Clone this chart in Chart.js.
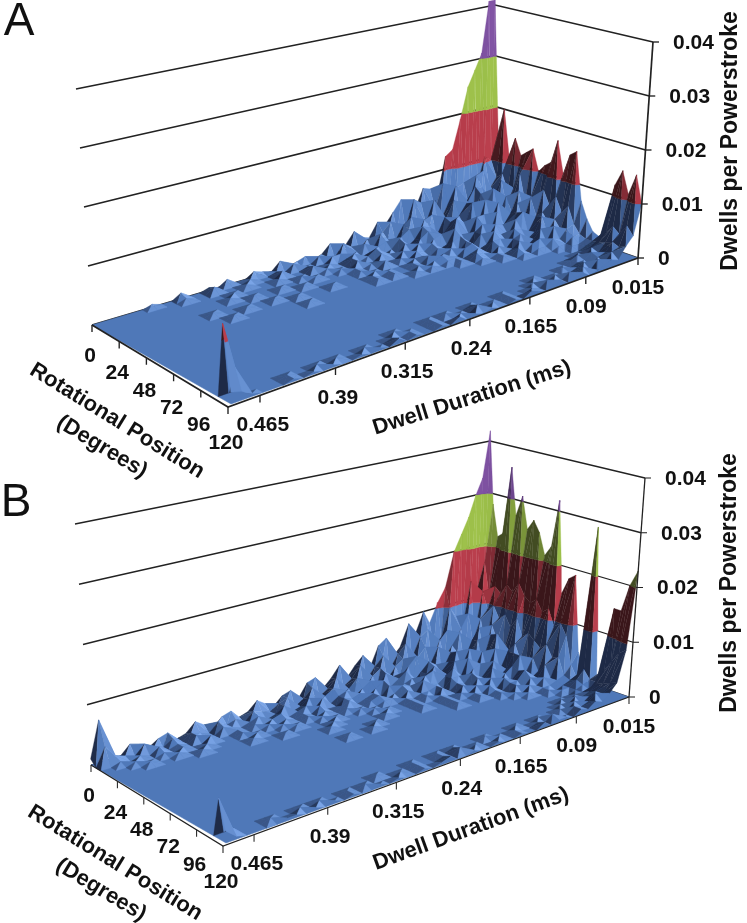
<!DOCTYPE html>
<html><head><meta charset="utf-8">
<script src="https://cdn.jsdelivr.net/npm/chart.js@4"></script>
<style>html,body{margin:0;padding:0;background:#fff}canvas{display:block;position:absolute;left:0}#a{top:0}#b{top:430px}</style>
</head><body>
<canvas id="a" width="747" height="500"></canvas>
<canvas id="b" width="747" height="493"></canvas>
<script>
// grid samples
const rotations=[0,5,10,15,20,25,30,35,40,45,50,55,60,65,70,75,80,85,90,95,100,105,110,115,120];
const durations=[.015,.025,.035,.045,.055,.065,.075,.085,.095,.105,.115,.125,.135,.145,.155,.165,.175,.185,.195,.205,.215,.225,.235,.245,.255,.265,.275,.285,.295,.305,.315,.325,.335,.345,.355,.365,.375,.385,.395,.405,.415,.425,.435,.445,.455,.465,.475,.485,.495];
const rotationTicks=[0,24,48,72,96,120];
const durationTicks=[.015,.09,.165,.24,.315,.39,.465];
const valueTicks=[0,.01,.02,.03,.04];
const valueUnit=.0005; // stored values are in units of 0.0005 dwells per powerstroke; omitted trailing cells are 0
const surfaceA=[
[82,82,62,56,50,38,27,25,10,14,15,8,6,13,9,5,7,2,3,6,2,1,4,1,0,2,1,0,3,0,1,2,0,0,2,0,1,0,0,2,0,0,1],
[30,20,22,12,9,14,13,4,16,7,5,11,13,3,2,7,4,1,3,0,2,4,0,1,2,0,0,2,0,1,0,0,1,0,0,0,2,0,0,1],
[40,14,10,18,17,6,5,15,9,3,12,4,2,8,6,1,2,5,0,3,1,0,2,2,0,0,1,0,0,2,0,0,0,1],
[22,16,8,4,13,14,9,3,11,5,2,8,7,1,5,3,0,3,2,0,0,2,1,0,1,0,2,0,0,0,1,0,0,0,0,1],
[30,10,15,7,3,12,4,10,6,3,7,1,5,6,2,0,4,1,0,3,1,0,2,0,0,1,0,0,1,0,0,0,0,0,0,0,1],
[24,12,6,5,14,9,2,11,3,7,6,2,0,5,3,1,3,0,1,2,0,0,2,0,1,0,0,1,0,0,0,1,0,0,1],
[26,18,9,11,4,7,12,3,1,6,8,2,4,3,0,3,1,2,0,0,1,1,0,1,0,0,0,0,0,1,0,0,0,0,0,0,0,0,0,1],
[28,8,13,6,2,11,5,8,8,2,3,6,1,0,3,1,2,0,1,0,2,0,0,1,0,0,0,0,0,0,0,0,0,1,0,0,1],
[20,11,5,10,7,3,9,1,6,4,0,4,3,1,2,0,1,1,0,0,0,0,1,0,0,0,0,1,0,0,0,1,0,0,0,0,0,0,1],
[23,7,12,4,8,1,5,6,2,4,1,3,0,2,1,0,2,0,1,0,0,1,0,1],
[25,15,6,3,9,7,2,3,5,1,0,3,2,0,1,2,1,0,1,0,0,1,0,1,0,0,0,0,0,0,0,1],
[34,10,8,7,2,4,5,1,3,3,0,2,1,0,1,1,0,1,0,1],
[22,14,5,8,3,1,4,3,0,2,0,1,2,0,1],
[30,9,7,3,5,2,0,3,1,0,1,0,1],
[32,12,4,6,1,3,2,0,2,0,1],
[14,6,5,2,3,1,1,0,1],
[8,3,3,1,1],
[4,2,1,1],
[3,2,1],
[6,3,2,1,1],
[24,7,4,3,1,2,1],
[30,10,5,2,3,1,1,0,1,0,0,0,1],
[22,8,6,3,2,0,2,1,0,0,1,0,0,1,0,0,0,1,0,0,0,1,0,0,1,0,1,0,0,0,1],
[30,12,5,4,1,3,0,2,1,2,0,1,2,0,1,0,0,1,0,1,0,2,0,1,0,0,1,0,0,1,0,1,0,0,1,0,0,1,0,1,0,0,1,0,0,0,0,10,26],
[20,9,6,2,3,2,1,0,2,1,0,2,1,0,1,2,0,1,0,0,1,0,1,0,2,0,1,0,0,1,0,2,0,1,0,1,0,0,1,0,1,0,1,0,0,0,1,3,4]
];
const surfaceB=[
[84,66,60,52,46,40,27,22,15,20,12,17,9,6,14,12,4,10,7,3,9,5,2,7,6,1,5,4,1,3,5,2,1,4,3,0,2,4,1,0,3,2,0,2,3,0,1,14,2],
[56,34,24,28,10,16,20,9,7,14,12,5,11,8,3,9,6,2,8,4,2,6,3,1,5,2,0,4,3,1,2,3,0,2,1,3,0,1,2,0,2,0,1,3,0,1,2,6],
[44,22,24,8,17,12,4,13,10,3,9,6,2,7,5,1,6,4,0,5,2,1,4,2,0,3,1,0,3,1,0,2,1,0,1,2,0,0,2,0,1,0,2,0,1,0,1],
[46,26,18,15,7,3,12,8,4,9,3,1,8,5,2,3,5,1,4,2,0,3,2,0,3,0,2,1,0,2,1,0,1,0,1,0,0,2,0,0,1,0,1,0,0,1],
[72,24,20,6,13,9,2,6,7,1,4,6,3,0,5,3,1,4,2,0,2,1,2,0,0,2,0,1,0,1,0,1,0,0,1,0,0,0,1,0,0,1,0,0,1],
[54,28,16,14,3,10,5,1,8,5,2,5,3,1,3,2,0,3,0,2,1,0,2,1,0,1,0,1,0,0,1,0,0,1,0,0,0,0,0,1],
[62,26,18,9,12,2,4,9,3,6,2,0,5,4,1,2,3,1,0,2,1,0,0,1,0,0,1,0,0,1,0,0,0,0,1],
[50,30,14,4,13,6,8,2,7,0,5,3,1,2,4,0,2,0,1,1,0,0,1,0,0,1,0,0,0,0,0,1],
[54,26,18,7,3,9,2,5,4,1,3,3,0,2,1,1,0,1,0,0,0,1,0,0,0,0,1],
[50,24,12,10,8,2,6,3,0,4,1,2,0,2,0,1,0,1,0,0,1,0,0,0,0,0,0,1],
[42,26,14,5,8,3,1,5,2,3,0,2,0,0,1,0,0,1,0,0,0,1],
[46,22,12,2,8,5,3,0,3,1,2,0,1,0,1,0,0,1,0,0,0,0,0,1],
[64,24,10,7,2,4,1,3,0,2,0,1,0,0,1,0,0,0,0,0,0,0,0,0,1,0,0,1],
[30,18,12,3,1,5,2,2,0,1,0,1,0,0,1],
[36,20,8,6,2,3,0,2,0,1],
[38,16,9,2,3,1,2,0,1],
[10,6,3,2,1,1,0,1],
[4,2,2,1,0,1],
[58,6,3,1,1],
[4,3,2,1],
[6,3,1,1,1,0,1],
[30,8,4,2,1,2,0,1],
[30,12,5,3,2,0,2,0,1,0,0,1,0,0,1,0,0,0,1,0,0,0,1,0,1,0,0,1,0,0,0,1],
[40,16,6,3,4,2,1,2,0,0,2,0,1,0,0,1,0,1,0,0,1,0,2,0,1,0,0,1,0,1,0,0,0,1,0,1,0,0,1,0,1,0,0,1,0,0,0,3,14],
[46,18,7,4,2,3,1,2,0,1,1,0,2,0,0,1,0,0,1,0,0,1,0,0,2,1,0,1,0,0,1,0,1,0,0,1,0,1,0,1,0,1,1,0,0,0,0,1,4]
];
const bandEdges=[0,.01,.02,.03,Infinity];
const bandColors=[
 {base:[79,120,184],light:[128,170,236],dark:[30,42,70]},
 {base:[178,58,72],light:[200,72,86],dark:[58,22,26]},
 {base:[152,187,71],light:[172,208,86],dark:[66,76,34]},
 {base:[123,79,158],light:[140,94,176],dark:[70,44,92]}
];
const panels=[
 {canvas:'a',top:0,height:500,letter:'A',letterAt:[19,22],surface:surfaceA,line:1.7,
  floor:[[491,207],[92,325],[231,404],[638,258]],
  roof:[[495,5],[76,89],[226,168],[653,42]],
  rotTitle:[117,421,31.7],degTitle:[102,447,31],durTitle:[472,398,-17.5],valTitle:[731,141]},
 {canvas:'b',top:430,height:493,letter:'B',letterAt:[16,503],surface:surfaceB,line:1.3,
  floor:[[482,646],[91,765],[226,843],[629,697]],
  roof:[[490,441],[75,524],[221,607],[645,478]],
  rotTitle:[115,863,31.7],degTitle:[101,890,31],durTitle:[471,829,-20],valTitle:[730,583]}
];
function homography(q){
 const [[x0,y0],[x1,y1],[x2,y2],[x3,y3]]=q;
 const dx1=x1-x2,dx2=x3-x2,sx=x0-x1+x2-x3,dy1=y1-y2,dy2=y3-y2,sy=y0-y1+y2-y3;
 const det=dx1*dy2-dx2*dy1,g=(sx*dy2-dx2*sy)/det,h=(dx1*sy-sx*dy1)/det;
 const a=x1-x0+g*x1,b=x3-x0+h*x3,d=y1-y0+g*y1,e=y3-y0+h*y3;
 return (s,t)=>{const w=g*s+h*t+1;return [(a*s+b*t+x0)/w,(d*s+e*t+y0)/w];};
}
const dMin=durations[0],dMax=durations[durations.length-1],rMax=120,zMax=.04;
function clipZ(poly,level,keepAbove){
 const out=[];
 for(let i=0;i<poly.length;i++){
  const p=poly[i],q=poly[(i+1)%poly.length];
  const pin=keepAbove?p[2]>=level:p[2]<=level,qin=keepAbove?q[2]>=level:q[2]<=level;
  if(pin)out.push(p);
  if(pin!==qin){const f=(level-p[2])/(q[2]-p[2]);out.push([p[0]+(q[0]-p[0])*f,p[1]+(q[1]-p[1])*f,level]);}
 }
 return out;
}
function mix(a,b,f){return a.map((v,i)=>Math.round(v+(b[i]-v)*f));}
function shadeOf(tri){
 const [A,B,C]=tri;
 const u=[(B[0]-A[0])*800,(B[1]-A[1])*1.2,(B[2]-A[2])*5900],v=[(C[0]-A[0])*800,(C[1]-A[1])*1.2,(C[2]-A[2])*5900];
 let nx=u[1]*v[2]-u[2]*v[1],ny=u[2]*v[0]-u[0]*v[2],nz=u[0]*v[1]-u[1]*v[0];
 if(nz<0){nx=-nx;ny=-ny;nz=-nz;}
 const m=Math.hypot(nx,ny,nz)||1,tilt=1-(nz*nz)/(m*m);
 const s=(ny*.8-nx*1.0)/m; // ny>0 faces high rotation (lit), nx>0 faces long durations (shadowed)
 return s>=0?Math.min(1,s*1.7*(1-.75*tilt)):Math.max(-1,s*1.25);
}
function buildDatasets(p){
 const fl=homography(p.floor),rf=homography(p.roof);
 const proj=(d,r,z)=>{
  const s=(d-dMin)/(dMax-dMin),t=r/rMax,f=fl(s,t),c=rf(s,t),k=z/zMax;
  return {x:f[0]+(c[0]-f[0])*k,y:f[1]+(c[1]-f[1])*k};
 };
 p.proj=proj;
 const list=[];
 const line=(pts,w,col)=>list.push({data:pts,borderColor:col||'#222',borderWidth:w||p.line,fill:false,backgroundColor:'transparent'});
 const off=(o,dx,dy)=>({x:o.x+dx,y:o.y+dy});
 // walls
 valueTicks.forEach(v=>{
  if(v===0)return;
  line([proj(dMax,0,v),proj(dMin,0,v),proj(dMin,rMax,v)]);
 });
 line([proj(dMax,0,0),proj(dMin,0,0),proj(dMin,rMax,0)]);
 // floor
 const base=bandColors[0].base,baseCss=`rgb(${base})`;
 const floorPts=[proj(dMin,0,0),proj(dMax,0,0),proj(dMax,rMax,0),proj(dMin,rMax,0),proj(dMin,0,0)];
 list.push({data:floorPts,borderColor:baseCss,borderWidth:.5,backgroundColor:baseCss,fill:'shape'});
 // facets, back to front
 const S=p.surface,val=(r,c)=>(S[r][c]||0)*valueUnit;
 for(let r=0;r<rotations.length-1;r++){
  for(let c=0;c<durations.length-1;c++){
   const pts=[[durations[c],rotations[r],val(r,c)],[durations[c+1],rotations[r],val(r,c+1)],[durations[c+1],rotations[r+1],val(r+1,c+1)],[durations[c],rotations[r+1],val(r+1,c)]];
   if(pts.every(q=>q[2]===0))continue;
   const diagA=Math.max(pts[0][2],pts[2][2])>=Math.max(pts[1][2],pts[3][2]);
   const tris=diagA?[[pts[0],pts[1],pts[2]],[pts[0],pts[2],pts[3]]]:[[pts[0],pts[1],pts[3]],[pts[1],pts[2],pts[3]]];
   for(const tri of tris){
    if(tri.every(q=>q[2]===0))continue;
    const s=shadeOf(tri);
    for(let b=0;b<4;b++){
     let poly=tri;
     if(b>0)poly=clipZ(poly,bandEdges[b],true);
     if(poly.length&&bandEdges[b+1]<Infinity)poly=clipZ(poly,bandEdges[b+1],false);
     if(poly.length<3)continue;
     const cols=bandColors[b];
     const rgb=s>=0?mix(cols.base,cols.light,s):mix(cols.base,cols.dark,-s);
     const css=`rgb(${rgb})`;
     const path=poly.map(q=>proj(q[0],q[1],q[2]));path.push(path[0]);
     list.push({data:path,borderColor:css,borderWidth:.35,backgroundColor:css,fill:'shape'});
    }
   }
  }
 }
 // axes in front
 const corner=off(proj(dMax,rMax,0),-3,3);
 line([off(proj(dMax,0,0),0,0),corner,off(proj(dMin,rMax,0),0,0)]);
 line([proj(dMin,rMax,0),proj(dMin,rMax,zMax)]);
 const rotEdge=r=>{const a=proj(dMax,0,0);return {x:a.x+(corner.x-a.x)*r/rMax,y:a.y+(corner.y-a.y)*r/rMax};};
 p.rotEdge=rotEdge;
 rotationTicks.forEach(r=>{const o=rotEdge(r);line([o,off(o,0,7)],p.line*.8);});
 const durEdge=d=>{const o=proj(d,rMax,0);const k=(d-dMin)/(dMax-dMin);return off(o,-3*k,3*k);};
 p.durEdge=durEdge;
 durationTicks.forEach(d=>{const o=durEdge(d);line([o,off(o,0,7)],p.line*.8);});
 valueTicks.forEach(v=>{const o=proj(dMin,rMax,v);line([o,off(o,6,0)],p.line*.8);});
 return list.reverse(); // Chart.js paints the first dataset last
}
const textPlugin={id:'panelText',afterDraw(chart,args,opts){
 const p=opts.panel,ctx=chart.ctx,sx=chart.scales.x,sy=chart.scales.y;
 const put=(txt,x,y,font,angle,align)=>{
  ctx.save();ctx.translate(sx.getPixelForValue(x),sy.getPixelForValue(y));
  if(angle)ctx.rotate(angle*Math.PI/180);
  ctx.font=font;ctx.fillStyle='#111';ctx.textAlign=align||'center';ctx.textBaseline='middle';
  ctx.fillText(txt,0,0);ctx.restore();
 };
 const tickFont='bold 21px "Liberation Sans",Arial,sans-serif',titleFont='bold 22px "Liberation Sans",Arial,sans-serif';
 rotationTicks.forEach(r=>{const o=p.rotEdge(r);put(String(r),o.x-2,o.y+31+5*r/120,tickFont);});
 durationTicks.forEach(d=>{const o=p.durEdge(d);put(String(d),o.x+3*(d-dMin)/(dMax-dMin),o.y+30,tickFont);});
 valueTicks.forEach(v=>{const o=p.proj(dMin,rMax,v);put(String(v),o.x+20,o.y+1,tickFont,0,'left');});
 put('Rotational Position',p.rotTitle[0],p.rotTitle[1],titleFont,p.rotTitle[2]);
 put('(Degrees)',p.degTitle[0],p.degTitle[1],titleFont,p.degTitle[2]);
 put('Dwell Duration (ms)',p.durTitle[0],p.durTitle[1],titleFont,p.durTitle[2]);
 put('Dwells per Powerstroke',p.valTitle[0],p.valTitle[1],'bold 23px "Liberation Sans",Arial,sans-serif',-90);
 put(p.letter,p.letterAt[0],p.letterAt[1],'46px "Liberation Sans",Arial,sans-serif');
}};
panels.forEach(p=>{
 new Chart(document.getElementById(p.canvas),{
  type:'scatter',
  data:{datasets:buildDatasets(p)},
  options:{responsive:false,animation:false,events:[],layout:{padding:0},
   datasets:{scatter:{showLine:true,pointRadius:0,pointHoverRadius:0,tension:0,clip:false,spanGaps:true}},
   scales:{x:{type:'linear',display:false,min:0,max:747},
           y:{type:'linear',display:false,reverse:true,min:p.top,max:p.top+p.height}},
   plugins:{legend:{display:false},tooltip:{enabled:false},panelText:{panel:p}}},
  plugins:[textPlugin]
 });
});
</script>
</body></html>
